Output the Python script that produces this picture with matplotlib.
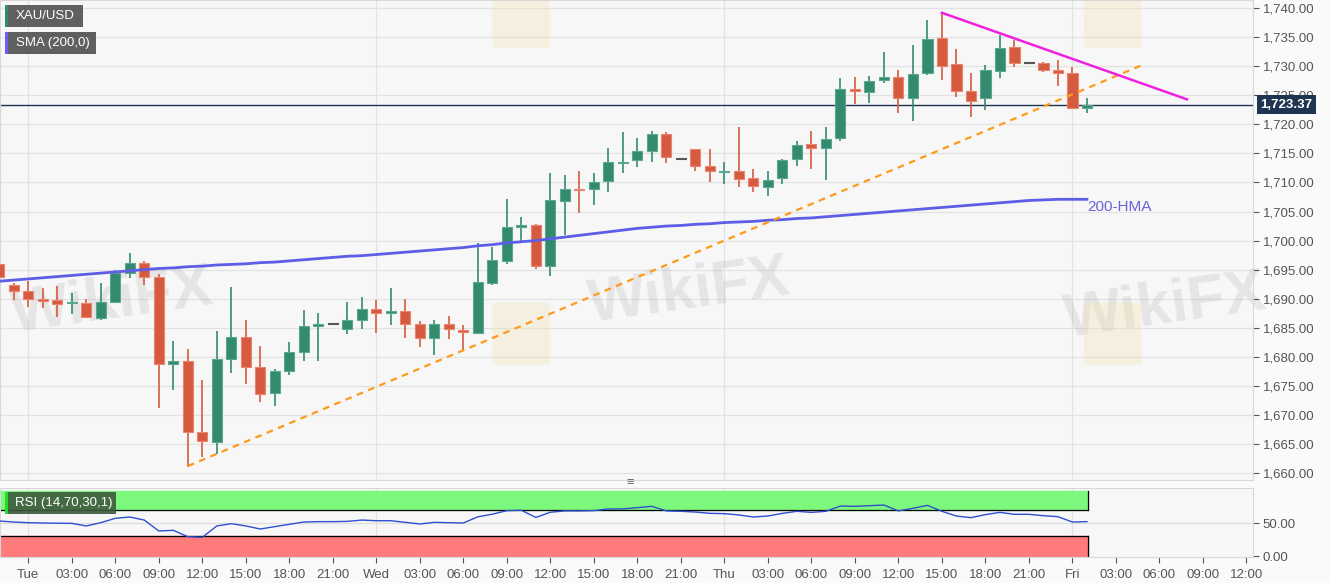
import matplotlib
matplotlib.use("Agg")
import matplotlib.pyplot as plt
from matplotlib.patches import FancyBboxPatch, Rectangle

plt.rcParams['font.family'] = ['Liberation Sans', 'DejaVu Sans']

# hourly candles, hour index counted from Tue 00:00
hours = list(range(-2, 74))

opens = [1696.0, 1692.3, 1691.3, 1689.9, 1689.8, 1689.2, 1689.2, 1686.7, 1689.5, 1694.5,
         1696.2, 1693.7, 1678.8, 1679.2, 1667.1, 1665.4, 1679.7, 1683.4, 1678.2, 1673.7,
         1677.5, 1680.9, 1685.3, 1685.6, 1684.8, 1686.4, 1688.3, 1687.6, 1687.9, 1685.6,
         1683.3, 1685.7, 1684.6, 1684.1, 1692.7, 1696.5, 1702.4, 1702.6, 1695.7, 1706.8,
         1708.9, 1708.9, 1710.2, 1713.3, 1713.8, 1715.5, 1718.3, 1714.1, 1715.8, 1712.8,
         1711.8, 1712.0, 1710.7, 1709.3, 1710.8, 1714.0, 1716.6, 1715.9, 1717.6, 1726.0,
         1725.6, 1727.6, 1728.1, 1724.5, 1728.8, 1734.8, 1730.4, 1725.8, 1724.5, 1729.2,
         1733.3, 1730.6, 1730.5, 1729.4, 1728.9, 1722.9]
highs = [1696.6, 1692.7, 1693.1, 1691.8, 1692.1, 1690.9, 1690.0, 1692.7, 1695.0, 1697.9,
         1696.5, 1694.3, 1682.8, 1681.4, 1676.0, 1684.4, 1692.0, 1686.4, 1681.8, 1677.9,
         1682.5, 1688.1, 1687.6, 1685.6, 1689.5, 1690.3, 1689.8, 1691.9, 1690.0, 1686.2,
         1686.4, 1687.0, 1685.5, 1699.6, 1698.9, 1707.1, 1704.1, 1702.8, 1711.6, 1711.2,
         1711.9, 1711.7, 1715.9, 1718.6, 1717.6, 1718.9, 1718.6, 1714.1, 1715.8, 1715.7,
         1713.6, 1719.5, 1712.4, 1712.0, 1714.0, 1717.2, 1718.9, 1719.5, 1727.9, 1728.1,
         1728.3, 1732.4, 1729.4, 1733.6, 1738.0, 1739.2, 1732.9, 1728.8, 1730.2, 1735.4,
         1734.6, 1730.6, 1730.8, 1731.0, 1729.9, 1724.6]
lows = [1692.0, 1689.7, 1688.5, 1688.4, 1686.8, 1687.3, 1686.6, 1686.4, 1689.3, 1693.5,
        1692.4, 1671.2, 1674.3, 1661.1, 1662.7, 1663.3, 1677.2, 1675.3, 1672.2, 1671.6,
        1676.8, 1679.3, 1679.2, 1685.6, 1684.0, 1684.7, 1684.1, 1685.5, 1683.2, 1681.7,
        1680.3, 1683.0, 1681.2, 1684.0, 1692.3, 1696.0, 1699.8, 1695.1, 1693.9, 1701.0,
        1704.7, 1706.2, 1708.3, 1711.7, 1712.7, 1713.5, 1713.3, 1714.1, 1712.0, 1710.1,
        1709.7, 1709.3, 1708.3, 1707.6, 1709.7, 1712.8, 1712.3, 1710.5, 1717.2, 1723.5,
        1723.7, 1727.1, 1722.0, 1720.6, 1728.5, 1727.7, 1724.7, 1721.3, 1722.4, 1727.9,
        1729.9, 1730.6, 1729.0, 1726.6, 1722.6, 1721.9]
closes = [1693.8, 1691.3, 1690.0, 1689.6, 1689.1, 1689.4, 1686.8, 1689.5, 1694.5, 1696.2,
          1693.7, 1678.7, 1679.2, 1667.0, 1665.5, 1679.7, 1683.4, 1678.3, 1673.6, 1677.5,
          1680.9, 1685.3, 1685.7, 1685.6, 1686.3, 1688.3, 1687.6, 1687.8, 1685.7, 1683.3,
          1685.6, 1684.7, 1684.3, 1692.9, 1696.6, 1702.3, 1702.7, 1695.7, 1706.9, 1708.9,
          1708.7, 1710.0, 1713.6, 1713.5, 1715.5, 1718.3, 1714.3, 1714.1, 1712.9, 1711.9,
          1712.0, 1710.6, 1709.4, 1710.5, 1713.9, 1716.5, 1716.0, 1717.4, 1726.0, 1725.7,
          1727.5, 1728.2, 1724.5, 1728.6, 1734.7, 1730.1, 1725.8, 1724.0, 1729.3, 1733.2,
          1730.6, 1730.6, 1729.4, 1728.9, 1722.9, 1723.37]

hma200 = [1693.0, 1693.2, 1693.4, 1693.6, 1693.8, 1694.0, 1694.2, 1694.4, 1694.6, 1694.8,
          1695.0, 1695.2, 1695.3, 1695.5, 1695.6, 1695.8, 1695.9, 1696.0, 1696.2, 1696.3,
          1696.5, 1696.7, 1696.9, 1697.1, 1697.3, 1697.4, 1697.6, 1697.8, 1698.0, 1698.2,
          1698.4, 1698.6, 1698.8, 1699.1, 1699.3, 1699.6, 1699.8, 1700.0, 1700.3, 1700.6,
          1700.9, 1701.2, 1701.5, 1701.8, 1702.1, 1702.3, 1702.5, 1702.6, 1702.8, 1702.9,
          1703.1, 1703.2, 1703.3, 1703.5, 1703.6, 1703.8, 1703.9, 1704.1, 1704.3, 1704.5,
          1704.7, 1704.9, 1705.1, 1705.3, 1705.5, 1705.7, 1705.9, 1706.1, 1706.3, 1706.5,
          1706.7, 1706.9, 1707.0, 1707.1, 1707.1, 1707.1]

rsi = [53.6, 52.0, 51.0, 50.5, 50.2, 50.0, 46.0, 51.0, 57.7, 59.7,
       55.0, 38.3, 39.3, 29.6, 28.6, 46.0, 49.5, 46.0, 41.3, 45.0,
       48.5, 52.0, 52.6, 52.6, 53.0, 55.0, 54.0, 54.0, 51.5, 49.0,
       51.5, 51.0, 50.5, 60.0, 64.0, 69.4, 70.0, 59.0, 67.0, 69.0,
       69.0, 69.4, 72.0, 72.0, 74.0, 76.0, 69.0, 68.4, 67.3, 65.3,
       64.8, 62.8, 59.7, 61.2, 65.3, 68.4, 66.8, 68.4, 76.5, 76.0,
       77.0, 78.0, 69.0, 73.0, 77.5, 68.4, 61.2, 58.7, 63.3, 66.8,
       63.8, 63.8, 61.7, 60.2, 52.0, 52.6]

# trend lines (hour, price)
support_line = ([11, 76.8], [1661.2, 1730.2])
resist_line = ([63, 79.9], [1739.2, 1724.3])

last_price = 1723.37
price_ticks = list(range(1660, 1741, 5))
day_names = {0: "Tue", 24: "Wed", 48: "Thu", 72: "Fri"}
x_ticks = list(range(0, 85, 3))

GREEN = "#338a6f"
RED = "#d65a40"
BG = "#f7f7f7"

fig = plt.figure(figsize=(13.31, 5.83), dpi=100)
fig.patch.set_facecolor("#fafafa")
ax = fig.add_axes([0.0, 0.1767, 0.9414, 0.8233])
ax_rsi = fig.add_axes([0.0, 0.0446, 0.9414, 0.1184], sharex=ax)

for a in (ax, ax_rsi):
    a.set_facecolor(BG)
    for s in a.spines.values():
        s.set_color("#d8d8d8")

xmin, xmax = -1.95, 84.45
ax.set_xlim(xmin, xmax)
ax.set_ylim(1658.8, 1741.4)

# grid
for p in price_ticks:
    ax.axhline(p, color="#e2e2e2", lw=0.9, zorder=0)
for d in day_names:
    ax.axvline(d, color="#e2e2e2", lw=0.9, zorder=0)
    ax_rsi.axvline(d, color="#e2e2e2", lw=0.9, zorder=0)

# watermarks
for (wx, wy) in [(0.09, 0.37), (0.55, 0.39), (0.93, 0.36)]:
    ax.text(wx, wy, "WikiFX", transform=ax.transAxes, fontsize=44, fontweight="bold",
            color="#a0a0a0", alpha=0.2, ha="center", va="center", rotation=8, zorder=0.5)
for (lx, ly) in [(0.398, 0.245), (0.87, 0.245), (0.398, 0.905), (0.87, 0.905)]:
    ax.add_patch(FancyBboxPatch((lx, ly), 0.036, 0.12, boxstyle="round,pad=0.005",
                                transform=ax.transAxes, facecolor="#f1e2b0", alpha=0.35,
                                edgecolor="none", zorder=0.5))

# candles
for h, o, hi, lo, c in zip(hours, opens, highs, lows, closes):
    if c > o:
        col, ec = GREEN, "#5aa88e"
    elif c < o:
        col, ec = RED, "#e8856f"
    else:
        col, ec = "#555555", "#555555"
    ax.vlines(h, lo, hi, color=col, lw=1.2, zorder=3)
    body = max(abs(c - o), 0.15)
    ax.bar(h, body, bottom=min(o, c), width=0.7, color=col, edgecolor=ec,
           linewidth=0.8, zorder=4)

# 200-HMA
ax.plot(hours, hma200, color="#5d5de8", lw=2.0, zorder=5)
ax.text(hours[-1], hma200[-1] - 0.2, "200-HMA", color="#6a62d8", fontsize=11,
        ha="left", va="top", zorder=6)

# trend lines
ax.plot(*support_line, color="#ff9a1a", lw=1.6, ls=(0, (3, 2.5)), zorder=6)
ax.plot(*resist_line, color="#f020e0", lw=1.8, zorder=6)

# last price line
ax.axhline(last_price, color="#1f3450", lw=1.0, zorder=2)

# right axis
ax.yaxis.tick_right()
ax.set_yticks(price_ticks)
ax.set_yticklabels([f"{p:,.2f}" for p in price_ticks])
ax.tick_params(axis="y", colors="#555555", labelsize=9.5, length=4, pad=3,
               labelcolor="#555555")
ax.tick_params(axis="x", bottom=False, labelbottom=False)
ax.text(1.006, last_price, f"{last_price:,.2f}", transform=ax.get_yaxis_transform(),
        fontsize=9.5, fontweight="bold", color="white", ha="left", va="center", zorder=10,
        bbox=dict(boxstyle="square,pad=0.25", facecolor="#1f3450", edgecolor="none"),
        clip_on=False)

# legend boxes
def tag(y, text, bar_col, face, w):
    fig.patches.append(Rectangle((0.0038, y), w, 0.0377, transform=fig.transFigure,
                                 facecolor=face, edgecolor="none", figure=fig))
    fig.patches.append(Rectangle((0.0038, y), 0.0022, 0.0377, transform=fig.transFigure,
                                 facecolor=bar_col, edgecolor="none", figure=fig))
    fig.text(0.012, y + 0.0188, text, color="white", fontsize=9.5, va="center", ha="left")

tag(0.953, "XAU/USD", "#2e8b6e", "#606060", 0.0585)
tag(0.907, "SMA (200,0)", "#6a5cff", "#606060", 0.0685)

# RSI panel
ax_rsi.set_ylim(-1.5, 104.1)
band_end = hours[-1] + 0.1
ax_rsi.fill_between([xmin, band_end], 70, 100, color="#7cf97c", zorder=1)
ax_rsi.fill_between([xmin, band_end], 0, 30, color="#ff7b7b", zorder=1)
ax_rsi.plot([xmin, band_end], [70, 70], color="black", lw=0.9, zorder=2)
ax_rsi.plot([xmin, band_end], [30, 30], color="black", lw=0.9, zorder=2)
ax_rsi.plot([band_end, band_end], [70, 100], color="black", lw=0.9, zorder=2)
ax_rsi.plot([band_end, band_end], [0, 30], color="black", lw=0.9, zorder=2)
ax_rsi.axhline(50, color="#dddddd", lw=0.9, zorder=0)
ax_rsi.plot(hours, rsi, color="#2f4fcf", lw=1.0, zorder=3)
fig.patches.append(Rectangle((0.0038, 0.118), 0.083, 0.0377, transform=fig.transFigure,
                             facecolor="#3d5a3d", alpha=0.9, edgecolor="none", figure=fig))
fig.patches.append(Rectangle((0.0038, 0.118), 0.0022, 0.0377, transform=fig.transFigure,
                             facecolor="#22dd22", edgecolor="none", figure=fig))
fig.text(0.0115, 0.1368, "RSI (14,70,30,1)", color="white", fontsize=9.5, va="center")

ax_rsi.yaxis.tick_right()
ax_rsi.set_yticks([0, 50])
ax_rsi.set_yticklabels(["0.00", "50.00"])
ax_rsi.tick_params(axis="y", colors="#555555", labelsize=9.5, length=4, pad=3)

ax_rsi.set_xticks(x_ticks)
ax_rsi.set_xticklabels([day_names.get(t, f"{t % 24:02d}:00") for t in x_ticks])
ax_rsi.tick_params(axis="x", colors="#555555", labelsize=9.5, length=4, pad=5)

# panel separator handle
fig.text(0.473, 0.171, "\u2261", fontsize=9, color="#666666", ha="center", va="center")

fig.savefig("out.png", dpi=100, facecolor=fig.get_facecolor())
